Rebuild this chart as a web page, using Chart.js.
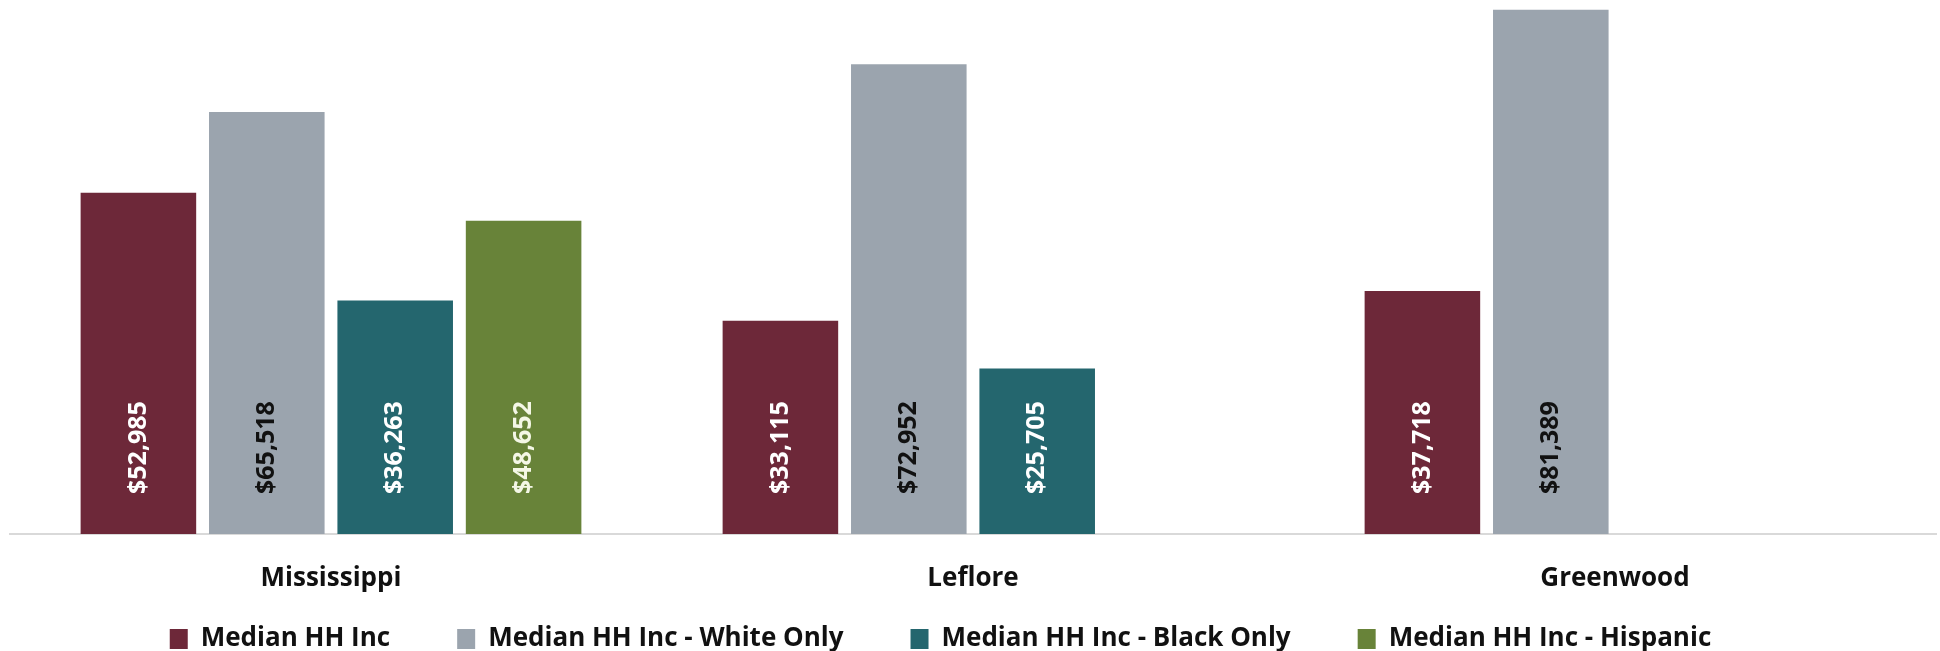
<!DOCTYPE html>
<html>
<head>
<meta charset="utf-8">
<style>
  html, body { margin: 0; padding: 0; background: #ffffff; }
  #wrap { width: 1940px; height: 651px; position: relative; }
</style>
<script src="https://cdn.jsdelivr.net/npm/chart.js@4.4.1/dist/chart.umd.min.js"></script>
</head>
<body>
<div id="wrap"><canvas id="income-chart"></canvas></div>
<script>
"use strict";
const places = ['Mississippi', 'Leflore', 'Greenwood'];
const seriesNames = ['Median HH Inc', 'Median HH Inc - White Only', 'Median HH Inc - Black Only', 'Median HH Inc - Hispanic'];
const medianAll = [52985, 33115, 37718];
const medianWhite = [65518, 72952, 81389];
const medianBlack = [36263, 25705, null];
const medianHispanic = [48652, null, null];

const barColors = ['#6d2839', '#9ba4ae', '#24666e', '#688339'];
const labelColors = ['#ffffff', '#111111', '#ffffff', '#f4f7e6'];

const fontName = "'Open Sans', 'DejaVu Sans', sans-serif";

// writes the value up the bar, from near its foot
const barLabels = {
    id: 'barLabels',
    afterDatasetsDraw(chart) {
        const ctx = chart.ctx;
        chart.data.datasets.forEach((ds, i) => {
            const meta = chart.getDatasetMeta(i);
            meta.data.forEach((bar, j) => {
                const v = ds.data[j];
                if (v === null || v === undefined) return;
                ctx.save();
                ctx.translate(bar.x, bar.base - 40);
                ctx.rotate(-Math.PI / 2);
                ctx.font = 'bold 25px ' + fontName;
                ctx.fillStyle = labelColors[i];
                ctx.textAlign = 'left';
                ctx.textBaseline = 'middle';
                ctx.fillText('$' + v.toLocaleString('en-US'), 0, 0);
                ctx.restore();
            });
        });
    }
};

const allSeries = [medianAll, medianWhite, medianBlack, medianHispanic];
const config = {
    type: 'bar',
    data: {
        labels: places,
        datasets: allSeries.map((vals, i) => ({
            label: seriesNames[i],
            data: vals,
            backgroundColor: barColors[i],
            borderWidth: 0,
            categoryPercentage: 0.8,
            barPercentage: 0.9
        }))
    },
    options: {
        responsive: true,
        maintainAspectRatio: false,
        animation: false,
        // legend sits right on the bottom edge in the original
        layout: { padding: { left: 10, right: 4, top: 2, bottom: -11 } },
        plugins: {
            tooltip: { enabled: false },
            legend: {
                position: 'bottom',
                labels: {
                    font: { family: fontName, size: 26, weight: 'bold' },
                    color: '#111111',
                    boxWidth: 18,
                    boxHeight: 20,
                    padding: 2,
                    // extra room between the items, legend stays thin
                    generateLabels(chart) {
                        const items = Chart.defaults.plugins.legend.labels.generateLabels(chart);
                        items.forEach(it => { it.text = it.text + '\u2003\u2003\u2002'; });
                        return items;
                    }
                }
            }
        },
        scales: {
            y: {
                display: false,
                min: 0,
                max: 82600
            },
            x: {
                grid: { display: false },
                border: { display: true, color: '#d9d9d9', width: 2 },
                ticks: {
                    color: '#111111',
                    padding: 21,
                    font: { family: fontName, size: 26, weight: 'bold' }
                },
                afterFit(scale) {
                    scale.height = 90;
                }
            }
        }
    },
    plugins: [barLabels]
};

const ctx = document.getElementById('income-chart').getContext('2d');
new Chart(ctx, config);
</script>
</body>
</html>
